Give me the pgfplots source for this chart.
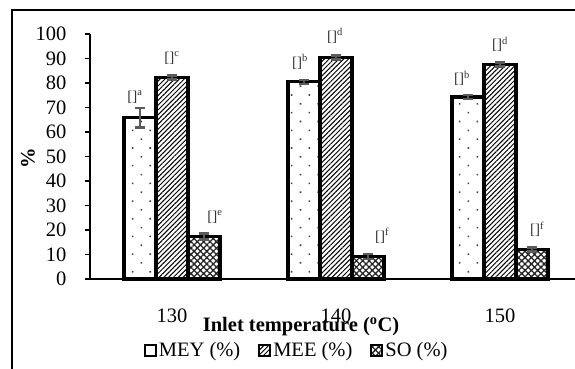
\documentclass[border=0pt]{standalone}
\usepackage{pgfplots}
\pgfplotsset{compat=1.18}
\usepackage{fontspec}
\setmainfont{Liberation Serif}
\usetikzlibrary{patterns,patterns.meta}
\definecolor{errgray}{HTML}{5A5A5A}
\begin{document}
\begin{tikzpicture}
\clip (0pt,0pt) rectangle (575pt,-369pt);
\fill[white] (0pt,0pt) rectangle (575pt,-369pt);
\draw[line width=2pt] (12pt,-10pt) rectangle (620pt,-420pt);
\begin{axis}[
  at={(90pt,-279pt)}, anchor=south west,
  scale only axis, width=492pt, height=245pt,
  xmin=0.5, xmax=3.5, ymin=0, ymax=100,
  axis x line=bottom, axis y line=left,
  axis line style={-, line width=2.2pt, black},
  xtick={1,2,3}, xticklabels={130,140,150},
  ytick={0,10,...,100},
  major x tick style={draw=none},
  major y tick style={line width=1.6pt, black},
  tick align=outside, major tick length=5pt,
  xticklabel style={yshift=-21pt},
  yticklabel style={xshift=-15pt},
  ticklabel style={font=\fontsize{20.5}{23}\selectfont},
  /pgf/number format/assume math mode=true,
  clip=false,
  ybar, bar width=32pt,
  every axis plot/.append style={line width=3.4pt},
  legend columns=3,
  legend style={draw=none, fill=none, at={(0.42,-0.29)}, anchor=center,
    font=\fontsize{20.5}{23}\selectfont,
    /tikz/every even column/.append style={column sep=16pt},
    /tikz/every odd column/.append style={column sep=0pt},
    nodes={inner xsep=2pt}},
  legend image code/.code={\draw[#1,line width=2pt,draw=black] (0pt,-5.5pt) rectangle (11pt,5.5pt);},
  error bars/error bar style={line width=2.4pt, color=errgray},
  error bars/error mark options={rotate=90, mark size=4.8pt, line width=2.4pt, color=errgray},
]
\addplot[draw=black, line width=3.4pt, bar shift=-32pt,
  pattern={Dots[distance=12.5pt, angle=45, radius=1.1pt]}, pattern color=black!75,
  error bars/.cd, y dir=both, y explicit]
  coordinates {(1,65.8) +- (0,3.9) (2,80.5) +- (0,0.8) (3,74.3) +- (0,0.8)};
\addlegendentry{MEY (\%)}
\addplot[draw=black, line width=3.4pt, bar shift=0pt,
  pattern={Lines[angle=45, distance=3.4pt, line width=1pt]}, pattern color=black,
  error bars/.cd, y dir=both, y explicit]
  coordinates {(1,82.2) +- (0,0.8) (2,90.4) +- (0,0.8) (3,87.6) +- (0,0.8)};
\addlegendentry{MEE (\%)}
\addplot[draw=black, line width=3.4pt, bar shift=32pt,
  pattern={Hatch[angle=45, distance=4.5pt, line width=1.3pt]}, pattern color=black!85,
  error bars/.cd, y dir=both, y explicit]
  coordinates {(1,17.3) +- (0,1.2) (2,9.1) +- (0,1.0) (3,12.1) +- (0,0.8)};
\addlegendentry{SO (\%)}
\tikzset{lab/.style={font=\fontsize{15}{17}\selectfont, text=black!80, inner sep=0pt}}
\node[lab] at (axis cs:1,74.3) [xshift=-37pt] {[]\textsuperscript{a}};
\node[lab] at (axis cs:1,90.2) [xshift=0pt] {[]\textsuperscript{c}};
\node[lab] at (axis cs:1,25.3) [xshift=43pt] {[]\textsuperscript{e}};
\node[lab] at (axis cs:2,88.6) [xshift=-36pt] {[]\textsuperscript{b}};
\node[lab] at (axis cs:2,99.2) [xshift=-1pt] {[]\textsuperscript{d}};
\node[lab] at (axis cs:2,17.6) [xshift=46pt] {[]\textsuperscript{f}};
\node[lab] at (axis cs:3,82.0) [xshift=-38pt] {[]\textsuperscript{b}};
\node[lab] at (axis cs:3,95.9) [xshift=0pt] {[]\textsuperscript{d}};
\node[lab] at (axis cs:3,20.4) [xshift=37pt] {[]\textsuperscript{f}};
\end{axis}
\node[rotate=90, font=\fontsize{20.5}{23}\selectfont\bfseries] at (28pt,-158pt) {\%};
\node[font=\fontsize{20.5}{23}\selectfont\bfseries] at (301pt,-327pt) {Inlet temperature (\textsuperscript{o}C)};
\end{tikzpicture}
\end{document}
